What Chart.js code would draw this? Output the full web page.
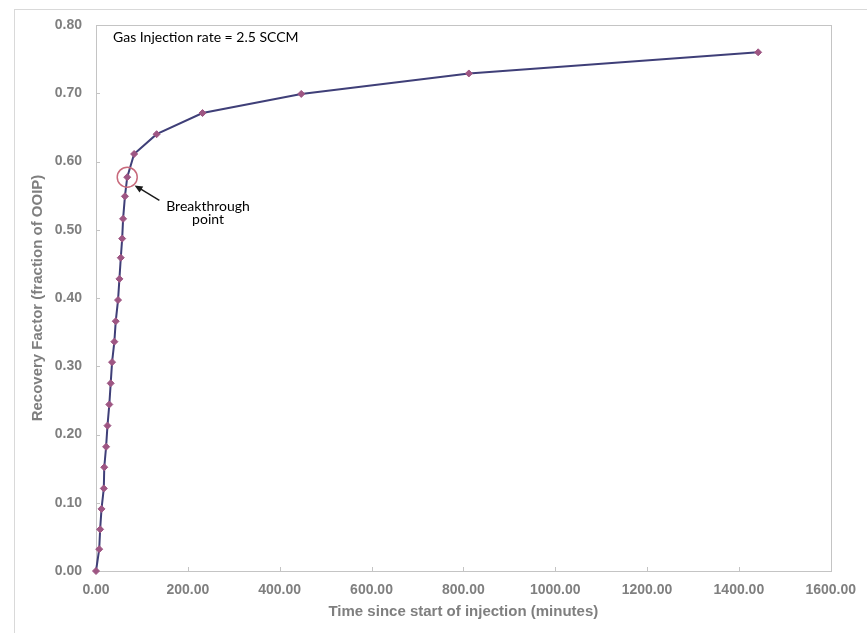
<!DOCTYPE html>
<html>
<head>
<meta charset="utf-8">
<script src="https://cdn.jsdelivr.net/npm/chart.js@4.4.0/dist/chart.umd.min.js"></script>
<style>
    html, body { margin: 0; padding: 0; background: #fff; }
    #wrap { width: 867px; height: 633px; position: relative; }
</style>
</head>
<body>
<div id="wrap"><canvas id="recovery"></canvas></div>
<script>
/****************** DATA **********************/

var timeMinutes = [0, 7, 9, 12, 17, 18, 22, 25, 29, 32, 35, 40, 43, 48, 51, 54, 57, 59, 63, 68,
                   83, 132, 232, 447, 812, 1442];
var recoveryFactor = [0.000, 0.032, 0.061, 0.091, 0.121, 0.152, 0.182, 0.213, 0.244, 0.275,
                      0.306, 0.336, 0.366, 0.397, 0.428, 0.459, 0.487, 0.516, 0.549, 0.577,
                      0.611, 0.640, 0.671, 0.699, 0.729, 0.760];
var xTicks = [0, 200, 400, 600, 800, 1000, 1200, 1400, 1600];
var yTicks = [0, 0.1, 0.2, 0.3, 0.4, 0.5, 0.6, 0.7, 0.8];
var breakthroughIndex = 19;
var rateNote = "Gas Injection rate = 2.5 SCCM";
var breakthroughLabel = ["Breakthrough", "point"];

/****************** LISTENER **********************/

document.addEventListener("DOMContentLoaded", function () {
    makeRecoveryChart();
});

/****************** FONCTION **********************/

/** Cadre, graduations intérieures et annotations */
var decorPlugin = {
    id: "decor",
    beforeDraw: function (chart) {
        var ctx = chart.ctx;
        ctx.save();
        ctx.fillStyle = "#fff";
        ctx.fillRect(0, 0, chart.width, chart.height);
        ctx.strokeStyle = "#d9d9d9";
        ctx.lineWidth = 1;
        ctx.strokeRect(14.5, 9.5, chart.width, chart.height);
        ctx.restore();
    },
    beforeDatasetsDraw: function (chart) {
        var ctx = chart.ctx, a = chart.chartArea;
        var xs = chart.scales.x, ys = chart.scales.y;
        ctx.save();
        ctx.strokeStyle = "#c4c4c4";
        ctx.lineWidth = 1;
        ctx.strokeRect(Math.round(a.left) + 0.5, Math.round(a.top) + 0.5,
                       Math.round(a.right - a.left), Math.round(a.bottom - a.top));
        ctx.beginPath();
        xTicks.forEach(function (v) {
            var px = Math.round(xs.getPixelForValue(v)) + 0.5;
            ctx.moveTo(px, a.bottom);
            ctx.lineTo(px, a.bottom - 4);
        });
        yTicks.forEach(function (v) {
            var py = Math.round(ys.getPixelForValue(v)) + 0.5;
            ctx.moveTo(a.left, py);
            ctx.lineTo(a.left + 4, py);
        });
        ctx.stroke();
        ctx.restore();
    },
    afterDatasetsDraw: function (chart) {
        var ctx = chart.ctx;
        var xs = chart.scales.x, ys = chart.scales.y;
        var pt = chart.getDatasetMeta(0).data[breakthroughIndex];
        ctx.save();

        // cercle autour du point de percée
        ctx.strokeStyle = "#c86a7c";
        ctx.lineWidth = 1.5;
        ctx.beginPath();
        ctx.arc(pt.x, pt.y, 10, 0, Math.PI * 2);
        ctx.stroke();

        // flèche
        var x0 = xs.getPixelForValue(138), y0 = ys.getPixelForValue(0.543);
        var x1 = xs.getPixelForValue(84), y1 = ys.getPixelForValue(0.565);
        var ang = Math.atan2(y1 - y0, x1 - x0);
        ctx.strokeStyle = "#1a1a1a";
        ctx.fillStyle = "#1a1a1a";
        ctx.lineWidth = 1.5;
        ctx.beginPath();
        ctx.moveTo(x0, y0);
        ctx.lineTo(x1 - 5 * Math.cos(ang), y1 - 5 * Math.sin(ang));
        ctx.stroke();
        ctx.beginPath();
        ctx.moveTo(x1, y1);
        ctx.lineTo(x1 - 8 * Math.cos(ang) + 3.5 * Math.sin(ang), y1 - 8 * Math.sin(ang) - 3.5 * Math.cos(ang));
        ctx.lineTo(x1 - 8 * Math.cos(ang) - 3.5 * Math.sin(ang), y1 - 8 * Math.sin(ang) + 3.5 * Math.cos(ang));
        ctx.closePath();
        ctx.fill();

        // textes
        ctx.fillStyle = "#000";
        ctx.font = "14px Lato, 'Open Sans', sans-serif";
        ctx.textBaseline = "middle";
        ctx.textAlign = "left";
        ctx.fillText(rateNote, xs.getPixelForValue(37), ys.getPixelForValue(0.781));
        ctx.textAlign = "center";
        ctx.fillText(breakthroughLabel[0], xs.getPixelForValue(244), ys.getPixelForValue(0.534));
        ctx.fillText(breakthroughLabel[1], xs.getPixelForValue(244), ys.getPixelForValue(0.515));
        ctx.restore();
    }
};

function makeRecoveryChart()
{
    var points = timeMinutes.map(function (t, i) {
        return { x: t, y: recoveryFactor[i] };
    });

    var axisGrey = "#7f7f7f";
    var tickFont = { family: "'Liberation Sans', Arial, sans-serif", size: 14, weight: "bold" };
    var titleFont = { family: "'Liberation Sans', Arial, sans-serif", size: 15, weight: "bold" };

    var ctx = document.getElementById("recovery").getContext("2d");
    window.recoveryChart = new Chart(ctx, {
        type: "scatter",
        data: {
            datasets: [{
                data: points,
                showLine: true,
                clip: false,
                borderColor: "#3f3f78",
                borderWidth: 2,
                pointStyle: "rectRot",
                pointRadius: 3.5,
                pointBackgroundColor: "#9e5683",
                pointBorderColor: "#9e5683",
                pointBorderWidth: 1
            }]
        },
        options: {
            responsive: true,
            maintainAspectRatio: false,
            animation: false,
            layout: {
                padding: { left: 15, top: 25, right: 35, bottom: 3 }
            },
            plugins: {
                legend: { display: false },
                tooltip: { enabled: false }
            },
            scales: {
                x: {
                    type: "linear",
                    min: 0,
                    max: 1600,
                    afterFit: function (scale) { scale.height = 59; },
                    afterBuildTicks: function (scale) {
                        scale.ticks = xTicks.map(function (v) { return { value: v }; });
                    },
                    grid: { display: false, drawTicks: false },
                    border: { display: false },
                    ticks: {
                        padding: 11,
                        maxRotation: 0,
                        color: axisGrey,
                        font: tickFont,
                        callback: function (v) { return Number(v).toFixed(2); }
                    },
                    title: {
                        display: true,
                        text: "Time since start of injection (minutes)",
                        color: axisGrey,
                        font: titleFont,
                        padding: { top: 0, bottom: 9 }
                    }
                },
                y: {
                    type: "linear",
                    min: 0,
                    max: 0.8,
                    afterFit: function (scale) { scale.width = 81; },
                    afterBuildTicks: function (scale) {
                        scale.ticks = yTicks.map(function (v) { return { value: v }; });
                    },
                    grid: { display: false, drawTicks: false },
                    border: { display: false },
                    ticks: {
                        padding: 14,
                        color: axisGrey,
                        font: tickFont,
                        callback: function (v) { return Number(v).toFixed(2); }
                    },
                    title: {
                        display: true,
                        text: "Recovery Factor (fraction of OOIP)",
                        color: axisGrey,
                        font: titleFont,
                        padding: { top: 14, bottom: 0 }
                    }
                }
            }
        },
        plugins: [decorPlugin]
    });
}
</script>
</body>
</html>
